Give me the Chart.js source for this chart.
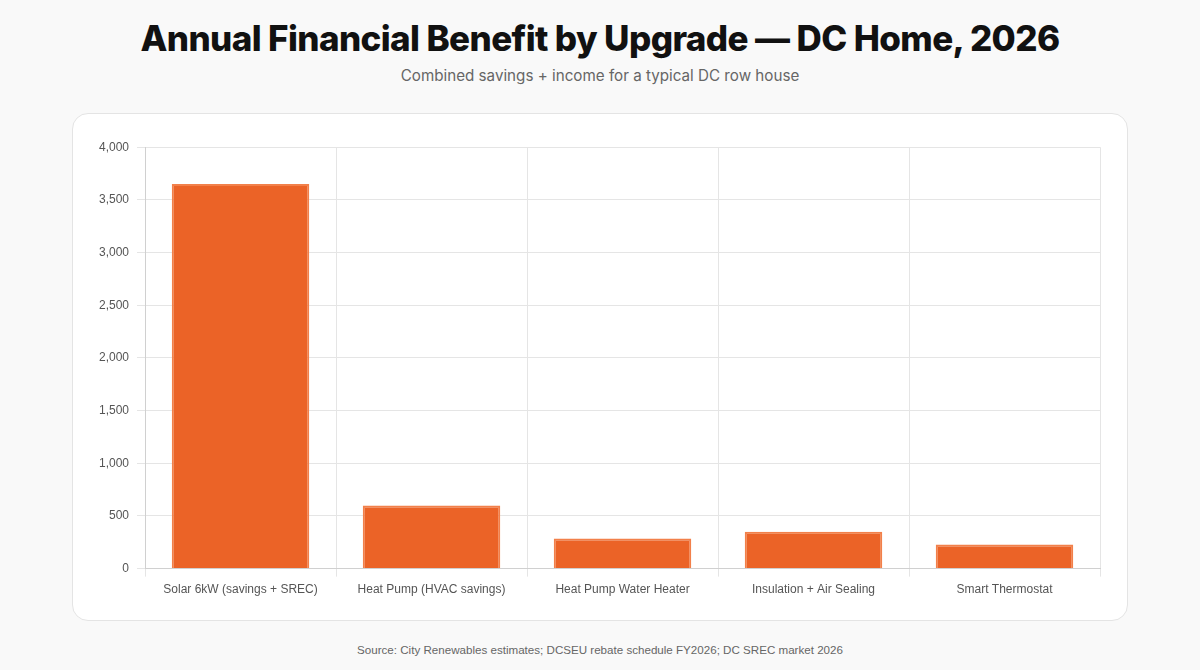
<!DOCTYPE html>
<html>
<head>
<meta charset="utf-8">
<script src="https://cdn.jsdelivr.net/npm/chart.js@4.4.1/dist/chart.umd.min.js"></script>
<style>
  html, body { margin: 0; padding: 0; background: #f9f9f9; }
  body { width: 1200px; height: 670px; position: relative; font-family: Inter, "Noto Sans", sans-serif; }
  h1 { position: absolute; top: 14px; left: 0; width: 1200px; margin: 0; text-align: center;
       font-size: 35px; font-weight: 800; letter-spacing: -0.6px; color: #111; line-height: 48px; }
  .sub { position: absolute; top: 65px; left: 0; width: 1200px; text-align: center;
         font-size: 15.2px; color: #666; line-height: 22px; }
  .card { position: absolute; left: 72px; top: 113px; width: 1054px; height: 506px;
          background: #fff; border: 1px solid #e4e4e4; border-radius: 16px; }
  .wrap { position: absolute; left: 18px; top: 18px; width: 1013px; height: 471px; }
  .src { position: absolute; top: 643px; left: 0; width: 1200px; text-align: center;
         font-family: "Liberation Sans", Arial, sans-serif; font-size: 11.6px; color: #666; }
</style>
</head>
<body>
<h1>Annual Financial Benefit by Upgrade — DC Home, 2026</h1>
<div class="sub">Combined savings + income for a typical DC row house</div>
<div class="card"><div class="wrap"><canvas id="c"></canvas></div></div>
<div class="src">Source: City Renewables estimates; DCSEU rebate schedule FY2026; DC SREC market 2026</div>
<script>
const categories = ["Solar 6kW (savings + SREC)", "Heat Pump (HVAC savings)", "Heat Pump Water Heater", "Insulation + Air Sealing", "Smart Thermostat"];
const benefitValues = [3650, 600, 285, 350, 228];

new Chart(document.getElementById('c'), {
  type: 'bar',
  data: {
    labels: categories,
    datasets: [{
      label: 'Annual benefit ($)',
      data: benefitValues,
      backgroundColor: '#EB6327',
      borderColor: '#F2804A',
      borderWidth: 2
    }]
  },
  options: {
    responsive: true,
    maintainAspectRatio: false,
    animation: false,
    layout: { padding: { right: 4 } },
    plugins: { legend: { display: false }, tooltip: { enabled: false } },
    scales: {
      x: {
        grid: { color: '#e5e5e5' },
        border: { color: '#d0d0d0' },
        ticks: { color: '#555', font: { size: 12, family: '"Liberation Sans", Arial, sans-serif' }, padding: 6 }
      },
      y: {
        min: 0, max: 4000,
        ticks: { stepSize: 500, color: '#555', font: { size: 12, family: '"Liberation Sans", Arial, sans-serif' }, padding: 8 },
        grid: { color: '#e5e5e5' },
        border: { color: '#d0d0d0' }
      }
    }
  }
});
</script>
</body>
</html>
